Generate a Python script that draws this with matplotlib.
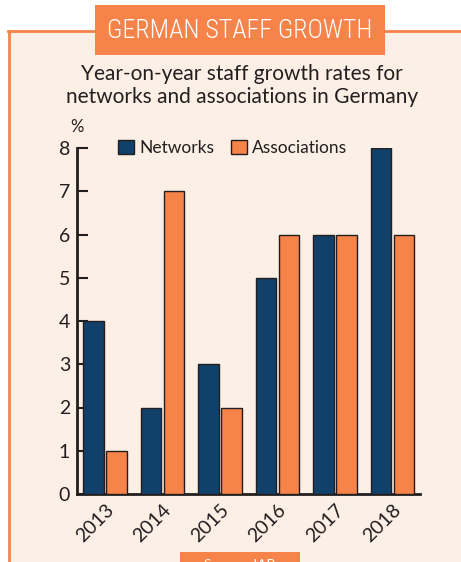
import numpy as np
import matplotlib.pyplot as plt
import matplotlib.transforms as mtrans
from matplotlib.patches import Rectangle
from matplotlib.lines import Line2D

years = ["2013", "2014", "2015", "2016", "2017", "2018"]
networks = [4, 2, 3, 5, 6, 8]
associations = [1, 7, 2, 6, 6, 6]

navy = "#11406b"
orange = "#f5834a"
bg = "#fcefe5"
ink = "#231f20"

plt.rcParams['font.family'] = ['Lato', 'DejaVu Sans']

W, H = 461, 562
fig = plt.figure(figsize=(W / 100, H / 100), dpi=100)
fig.patch.set_facecolor("white")

def fx(px):
    return px / W

def fy(py):
    return 1 - py / H

# panel background and border
fig.patches.append(Rectangle((fx(9), 0), 1, fy(31), transform=fig.transFigure,
                             facecolor=bg, edgecolor="none", zorder=-2))
fig.lines.append(Line2D([fx(9), fx(9)], [0, fy(31)], transform=fig.transFigure,
                        color=orange, lw=2, zorder=-1))
fig.lines.append(Line2D([fx(8), 1], [fy(31), fy(31)], transform=fig.transFigure,
                        color=orange, lw=2, zorder=-1))

# title box
fig.patches.append(Rectangle((fx(95), fy(55)), fx(385) - fx(95), fy(5) - fy(55),
                             transform=fig.transFigure, facecolor=orange,
                             edgecolor="none", zorder=2))
t = fig.text(fx(240), fy(31), "GERMAN STAFF GROWTH", color="white",
             ha="center", va="center", fontsize=27, fontweight="light",
             family=["Roboto Condensed", "Liberation Sans"], zorder=3)
fig.canvas.draw()
bb = t.get_window_extent()
if bb.width > 266:
    t.set_fontsize(27 * 266 / bb.width)

fig.text(fx(242), fy(74), "Year-on-year staff growth rates for", ha="center",
         va="center", fontsize=15, color=ink)
fig.text(fx(242), fy(97), "networks and associations in Germany", ha="center",
         va="center", fontsize=15, color=ink)

# source box (clipped at bottom)
fig.patches.append(Rectangle((fx(180), 0), fx(300) - fx(180), fy(552),
                             transform=fig.transFigure, facecolor=orange,
                             edgecolor="none", zorder=2))
fig.text(fx(240), fy(565), "Source: IAB", color="white", ha="center",
         va="center", fontsize=10, zorder=3)

ax = fig.add_axes([fx(77), fy(494), fx(420) - fx(77), fy(148) - fy(494)])
ax.set_zorder(5)
ax.set_facecolor("none")
x = np.arange(len(years))
w = 0.36
ax.bar(x - w / 2 - 0.02, networks, w, color=navy, edgecolor=ink, lw=1,
       label="Networks", zorder=3)
ax.bar(x + w / 2 + 0.02, associations, w, color=orange, edgecolor=ink, lw=1,
       label="Associations", zorder=3)
ax.set_xlim(-0.49, 5.48)
ax.set_ylim(0, 8)
ax.set_yticks(range(9))
ax.set_xticks(x)
ax.set_xticklabels(years, rotation=45, ha="right", rotation_mode="anchor")
shift = mtrans.ScaledTranslation(9 / 100, 0, fig.dpi_scale_trans)
for lab in ax.get_xticklabels():
    lab.set_transform(lab.get_transform() + shift)
for s in ["top", "right"]:
    ax.spines[s].set_visible(False)
for s in ["left", "bottom"]:
    ax.spines[s].set_linewidth(2)
    ax.spines[s].set_color(ink)
ax.tick_params(axis="y", direction="in", length=8, width=1.5, color=ink,
               labelsize=14, labelcolor=ink, pad=5)
ax.tick_params(axis="x", length=0, labelsize=14, labelcolor=ink, pad=5)
ax.text(0.0, 1.06, "%", transform=ax.transAxes, ha="center", va="center",
        fontsize=12, color=ink)
ax.legend(loc="center left", bbox_to_anchor=(0.1, 1.0), ncol=2, frameon=False,
          fontsize=12.5, handlelength=0.9, handleheight=0.9, handletextpad=0.3,
          columnspacing=1.0, borderaxespad=0, labelcolor=ink)

fig.savefig("out.png", dpi=100, facecolor=fig.get_facecolor())
